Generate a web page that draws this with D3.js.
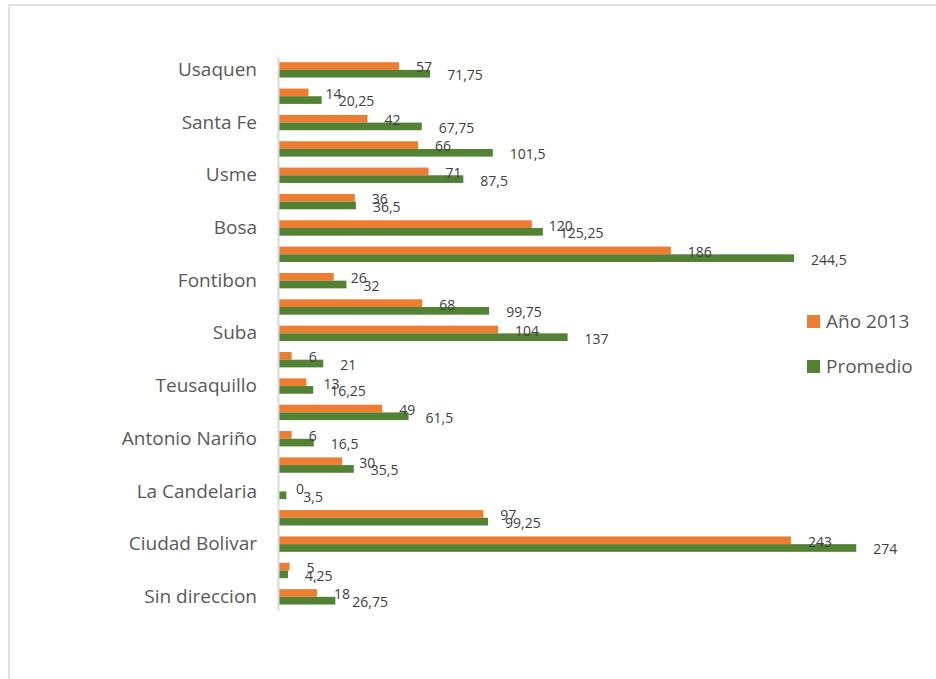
<!doctype html>
<html lang=en>

<head>
  <meta charset=utf-8>
  <title>Localidades</title>
  <style>
    body { margin: 0; background: #fff; }
    svg { display: block; font-family: "Open Sans", Lato, sans-serif; }
  </style>
</head>

<body>
  <svg></svg>
  <script src="https://cdn.jsdelivr.net/npm/d3@7"></script>
  <script>
    var localidades = ["Usaquen", "Chapinero", "Santa Fe", "San Cristobal", "Usme", "Tunjuelito",
      "Bosa", "Kennedy", "Fontibon", "Engativa", "Suba", "Barrios Unidos", "Teusaquillo",
      "Los Martires", "Antonio Nariño", "Puente Aranda", "La Candelaria", "Rafael Uribe Uribe",
      "Ciudad Bolivar", "Sumapaz", "Sin direccion"];
    var anio2013 = [57, 14, 42, 66, 71, 36, 120, 186, 26, 68, 104, 6, 13, 49, 6, 30, 0, 97, 243, 5, 18];
    var promedio = [71.75, 20.25, 67.75, 101.5, 87.5, 36.5, 125.25, 244.5, 32, 99.75, 137, 21, 16.25,
      61.5, 16.5, 35.5, 3.5, 99.25, 274, 4.25, 26.75];
    var series = ["Año 2013", "Promedio"];
    var colores = ["#ED7D31", "#548235"];

    var width = 936;
    var height = 679;

    var svg = d3.select("svg")
      .attr("width", width)
      .attr("height", height);

    // chart area border (runs off the page on the right and bottom)
    svg.append("rect")
      .attr("x", 9).attr("y", 5)
      .attr("width", 1000).attr("height", 1000)
      .attr("fill", "none")
      .attr("stroke", "#d9d9d9")
      .attr("stroke-width", 1.5);

    var x = d3.scaleLinear()
      .domain([0, 300])
      .range([279, 911]);

    var y = d3.scaleBand()
      .domain(localidades)
      .range([56.7, 610])
      .paddingInner(0.416)
      .paddingOuter(0.208);

    var sub = d3.scaleBand()
      .domain(series)
      .range([0, y.bandwidth()]);

    var rows = localidades.map(function (d, i) {
      return { name: d, values: [anio2013[i], promedio[i]] };
    });

    var g = svg.selectAll("g.row")
      .data(rows)
      .enter().append("g")
      .attr("class", "row")
      .attr("transform", function (d) { return "translate(0," + y(d.name) + ")"; });

    g.selectAll("rect")
      .data(function (d) { return d.values; })
      .enter().append("rect")
      .attr("x", x(0))
      .attr("y", function (d, i) { return sub(series[i]); })
      .attr("width", function (d) { return x(d) - x(0); })
      .attr("height", sub.bandwidth())
      .attr("fill", function (d, i) { return colores[i]; });

    g.selectAll("text")
      .data(function (d) { return d.values; })
      .enter().append("text")
      .attr("x", function (d) { return x(d) + 17; })
      .attr("y", function (d, i) { return sub(series[i]) + sub.bandwidth() / 2 + 1.5; })
      .attr("dy", "0.35em")
      .attr("fill", "#404040")
      .style("font-size", "14px")
      .text(function (d) { return String(d).replace(".", ","); });

    // category axis, Excel shows every other label
    var axis = svg.append("g")
      .attr("transform", "translate(" + x(0) + ",0)")
      .call(d3.axisLeft(y)
        .tickSize(0)
        .tickPadding(22)
        .tickFormat(function (d, i) { return i % 2 === 0 ? d : ""; }));

    axis.select(".domain")
      .attr("stroke", "#d9d9d9")
      .attr("stroke-width", 2)
      .attr("transform", "translate(-1,0)");
    axis.selectAll("text")
      .attr("fill", "#595959")
      .style("font-size", "19px")
      .style("font-family", "'Open Sans', Lato, sans-serif");

    // legend
    var legend = svg.selectAll("g.legend")
      .data(series)
      .enter().append("g")
      .attr("class", "legend")
      .attr("transform", function (d, i) { return "translate(807," + (315 + i * 45) + ")"; });

    legend.append("rect")
      .attr("width", 13).attr("height", 13)
      .attr("fill", function (d, i) { return colores[i]; });

    legend.append("text")
      .attr("x", 19)
      .attr("y", 6.5)
      .attr("dy", "0.35em")
      .attr("fill", "#595959")
      .style("font-size", "19px")
      .text(function (d) { return d; });
  </script>
</body>

</html>
